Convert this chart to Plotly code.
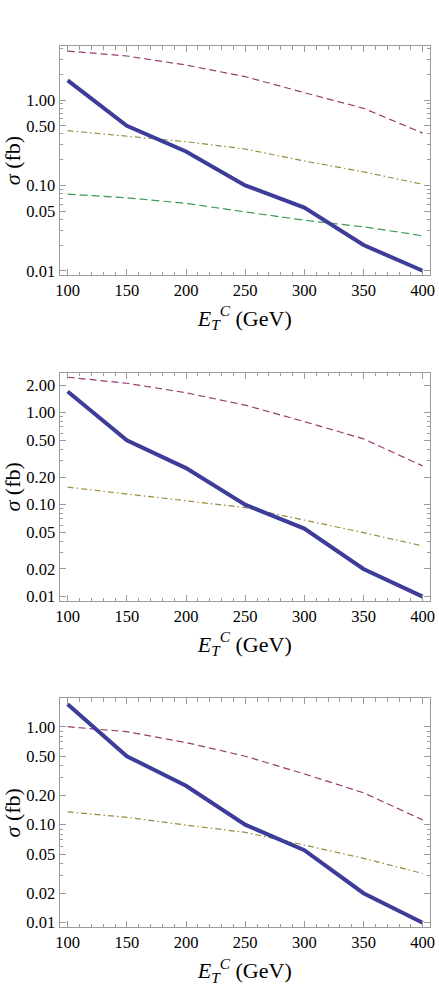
import plotly.graph_objects as go

# transverse energy cut (GeV)
et_cut = [100, 150, 200, 250, 300, 350, 400]

# signal cross section (same in every panel), fb
signal = [1.7, 0.5, 0.25, 0.1, 0.055, 0.02, 0.01]

# panel 1 backgrounds
p1_bkg_a = [3.75, 3.28, 2.57, 1.88, 1.22, 0.80, 0.41]
p1_bkg_b = [0.437, 0.378, 0.325, 0.267, 0.193, 0.144, 0.103]
p1_bkg_c = [0.079, 0.0716, 0.0615, 0.049, 0.039, 0.0327, 0.0257]

# panel 2 backgrounds
p2_bkg_a = [2.43, 2.09, 1.65, 1.21, 0.80, 0.52, 0.264]
p2_bkg_b = [0.155, 0.131, 0.112, 0.093, 0.068, 0.0497, 0.0356]

# panel 3 backgrounds
p3_bkg_a = [1.0, 0.89, 0.69, 0.50, 0.33, 0.212, 0.112]
p3_bkg_b = [0.135, 0.119, 0.099, 0.0836, 0.062, 0.0454, 0.0318]

p1_ticks = [1.0, 0.5, 0.1, 0.05, 0.01]
p2_ticks = [2.0, 1.0, 0.5, 0.2, 0.1, 0.05, 0.02, 0.01]
p3_ticks = [1.0, 0.5, 0.2, 0.1, 0.05, 0.02, 0.01]

BLUE = '#3d3d99'
PURPLE = '#993d71'
GOLD = '#998b3d'
GREEN = '#3d9954'
FRAME = '#9a9a9a'
FONT = 'Liberation Serif, Times New Roman, serif'

W, H = 439, 992
x_dom = [59.5 / W, 430 / W]
panels = [
    dict(top=46, bot=275, yr=[-2.05, 0.633], ticks=p1_ticks,
         series=[(p1_bkg_a, PURPLE, '7px,4px'), (p1_bkg_b, GOLD, '6px,3px,1.5px,3px'),
                 (p1_bkg_c, GREEN, '8px,4px')]),
    dict(top=372.7, bot=601, yr=[-2.047, 0.435], ticks=p2_ticks,
         series=[(p2_bkg_a, PURPLE, '7px,4px'), (p2_bkg_b, GOLD, '6px,3px,1.5px,3px')]),
    dict(top=698.3, bot=927.3, yr=[-2.047, 0.29], ticks=p3_ticks,
         series=[(p3_bkg_a, PURPLE, '7px,4px'), (p3_bkg_b, GOLD, '6px,3px,1.5px,3px')]),
]

minor_y = [m * 10.0 ** e for e in range(-3, 2) for m in range(1, 10)]

fig = go.Figure()
lay = {}
for i, p in enumerate(panels, start=1):
    xa = 'x' if i == 1 else 'x%d' % i
    ya = 'y' if i == 1 else 'y%d' % i
    for vals, col, dash in p['series']:
        fig.add_trace(go.Scatter(x=et_cut, y=vals, mode='lines', xaxis=xa, yaxis=ya,
                                 line=dict(color=col, width=1.2, dash=dash), showlegend=False))
    fig.add_trace(go.Scatter(x=et_cut, y=signal, mode='lines', xaxis=xa, yaxis=ya,
                             line=dict(color=BLUE, width=4), showlegend=False))

    common = dict(showgrid=False, zeroline=False, showline=True, linecolor=FRAME, linewidth=1,
                  mirror='ticks', ticks='inside', tickcolor=FRAME, ticklen=6, tickwidth=1,
                  automargin=False, ticklabeloverflow='allow',
                  tickfont=dict(family=FONT, size=16.5, color='black'))
    lay['xaxis' if i == 1 else 'xaxis%d' % i] = dict(
        common, domain=x_dom, anchor=ya, range=[93.1, 406.2],
        tickmode='array', tickvals=et_cut, ticktext=[str(v) for v in et_cut],
        minor=dict(ticks='inside', tickmode='array',
                   tickvals=[v for v in range(90, 411, 10) if v % 50],
                   ticklen=3.5, tickcolor=FRAME),
        title=dict(text='<i>E</i><sub><i>T</i></sub><sup><i>C</i></sup> (GeV)',
                   font=dict(family=FONT, size=22, color='black'), standoff=11))
    lay['yaxis' if i == 1 else 'yaxis%d' % i] = dict(
        common, domain=[1 - p['bot'] / H, 1 - p['top'] / H], anchor=xa, type='log',
        range=p['yr'], tickmode='array', tickvals=p['ticks'],
        ticktext=['%.2f' % v for v in p['ticks']],
        minor=dict(ticks='inside', tickmode='array',
                   tickvals=[v for v in minor_y if all(abs(v - t) > 1e-9 for t in p['ticks'])],
                   ticklen=3.5, tickcolor=FRAME),
        title=dict(text='<i>σ</i> (fb)', font=dict(family=FONT, size=22, color='black'),
                   standoff=2))

fig.update_layout(width=W, height=H, margin=dict(l=0, r=0, t=0, b=0),
                  plot_bgcolor='white', paper_bgcolor='white', **lay)
# page body has a default 8px margin that would shift the chart
fig.write_html('out.html', config={'displayModeBar': False},
               post_script="document.body.style.margin='0';")
